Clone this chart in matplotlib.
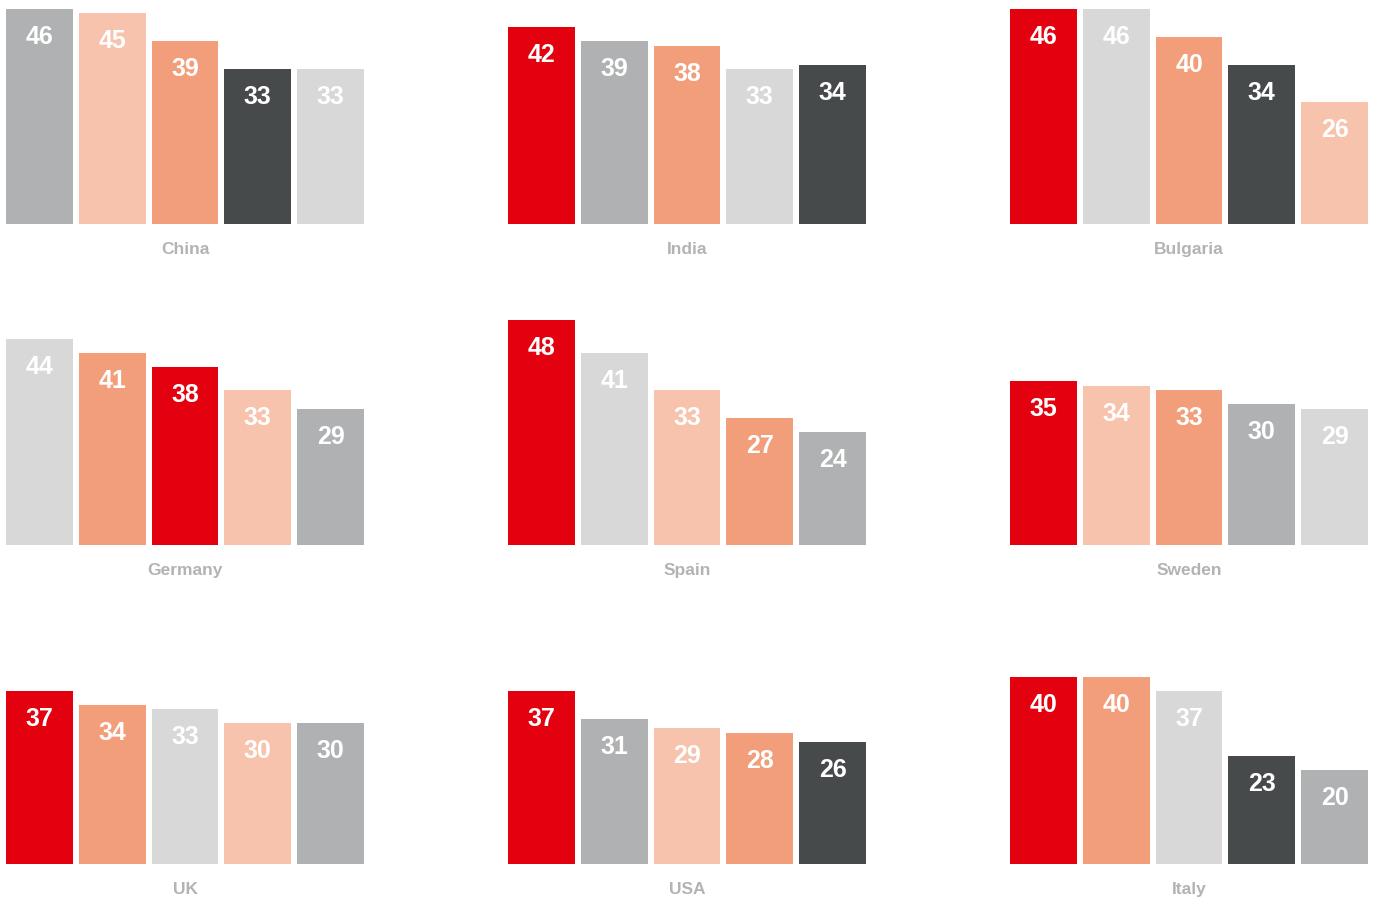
import matplotlib
matplotlib.use("Agg")
import matplotlib.pyplot as plt

# Category colour codes
RED = "#e3000f"
MIDGRAY = "#b0b1b2"
LIGHTGRAY = "#d7d8d7"
SALMON = "#f29e7b"
LIGHTSALMON = "#f7c3ad"
DARK = "#474a4b"

countries = ["China", "India", "Bulgaria", "Germany", "Spain", "Sweden", "UK", "USA", "Italy"]

china_values = [46, 45, 39, 33, 33]
india_values = [42, 39, 38, 33, 34]
bulgaria_values = [46, 46, 40, 34, 26]
germany_values = [44, 41, 38, 33, 29]
spain_values = [48, 41, 33, 27, 24]
sweden_values = [35, 34, 33, 30, 29]
uk_values = [37, 34, 33, 30, 30]
usa_values = [37, 31, 29, 28, 26]
italy_values = [40, 40, 37, 23, 20]

china_colors = [MIDGRAY, LIGHTSALMON, SALMON, DARK, LIGHTGRAY]
india_colors = [RED, MIDGRAY, SALMON, LIGHTGRAY, DARK]
bulgaria_colors = [RED, LIGHTGRAY, SALMON, DARK, LIGHTSALMON]
germany_colors = [LIGHTGRAY, SALMON, RED, LIGHTSALMON, MIDGRAY]
spain_colors = [RED, LIGHTGRAY, LIGHTSALMON, SALMON, MIDGRAY]
sweden_colors = [RED, LIGHTSALMON, SALMON, MIDGRAY, LIGHTGRAY]
uk_colors = [RED, SALMON, LIGHTGRAY, LIGHTSALMON, MIDGRAY]
usa_colors = [RED, MIDGRAY, LIGHTSALMON, SALMON, DARK]
italy_colors = [RED, SALMON, LIGHTGRAY, DARK, MIDGRAY]

all_values = [china_values, india_values, bulgaria_values, germany_values, spain_values,
              sweden_values, uk_values, usa_values, italy_values]
all_colors = [china_colors, india_colors, bulgaria_colors, germany_colors, spain_colors,
              sweden_colors, uk_colors, usa_colors, italy_colors]

W, H = 1381, 903
fig = plt.figure(figsize=(W / 100, H / 100), dpi=100)
fig.patch.set_facecolor("white")

font = ["Liberation Sans", "DejaVu Sans"]
panel_lefts = [6, 508, 1010]
row_bottoms = [224.5, 545.5, 864.5]
panel_w = 358
ymax = 48
panel_h = ymax * 4.667

for idx, (name, vals, cols) in enumerate(zip(countries, all_values, all_colors)):
    r, c = divmod(idx, 3)
    left = panel_lefts[c] / W
    bottom = (H - row_bottoms[r]) / H
    ax = fig.add_axes([left, bottom, panel_w / W, panel_h / H])
    x = list(range(len(vals)))
    ax.bar(x, vals, width=0.92, color=cols, linewidth=0)
    ax.set_xlim(-0.46, len(vals) - 1 + 0.46)
    ax.set_ylim(0, ymax)
    ax.axis("off")
    for xi, v in zip(x, vals):
        ax.annotate(str(v), xy=(xi, v), xytext=(0, -27), textcoords="offset pixels",
                    ha="center", va="center", color="white", fontsize=18,
                    fontweight="bold", family=font, annotation_clip=False)
    ax.annotate(name, xy=(0.5, 0), xycoords="axes fraction", xytext=(0, -25),
                textcoords="offset pixels", ha="center", va="center",
                color="#b3b3b3", fontsize=12.5, fontweight="bold", family=font,
                annotation_clip=False)

fig.savefig("out.png", dpi=100, facecolor="white")
